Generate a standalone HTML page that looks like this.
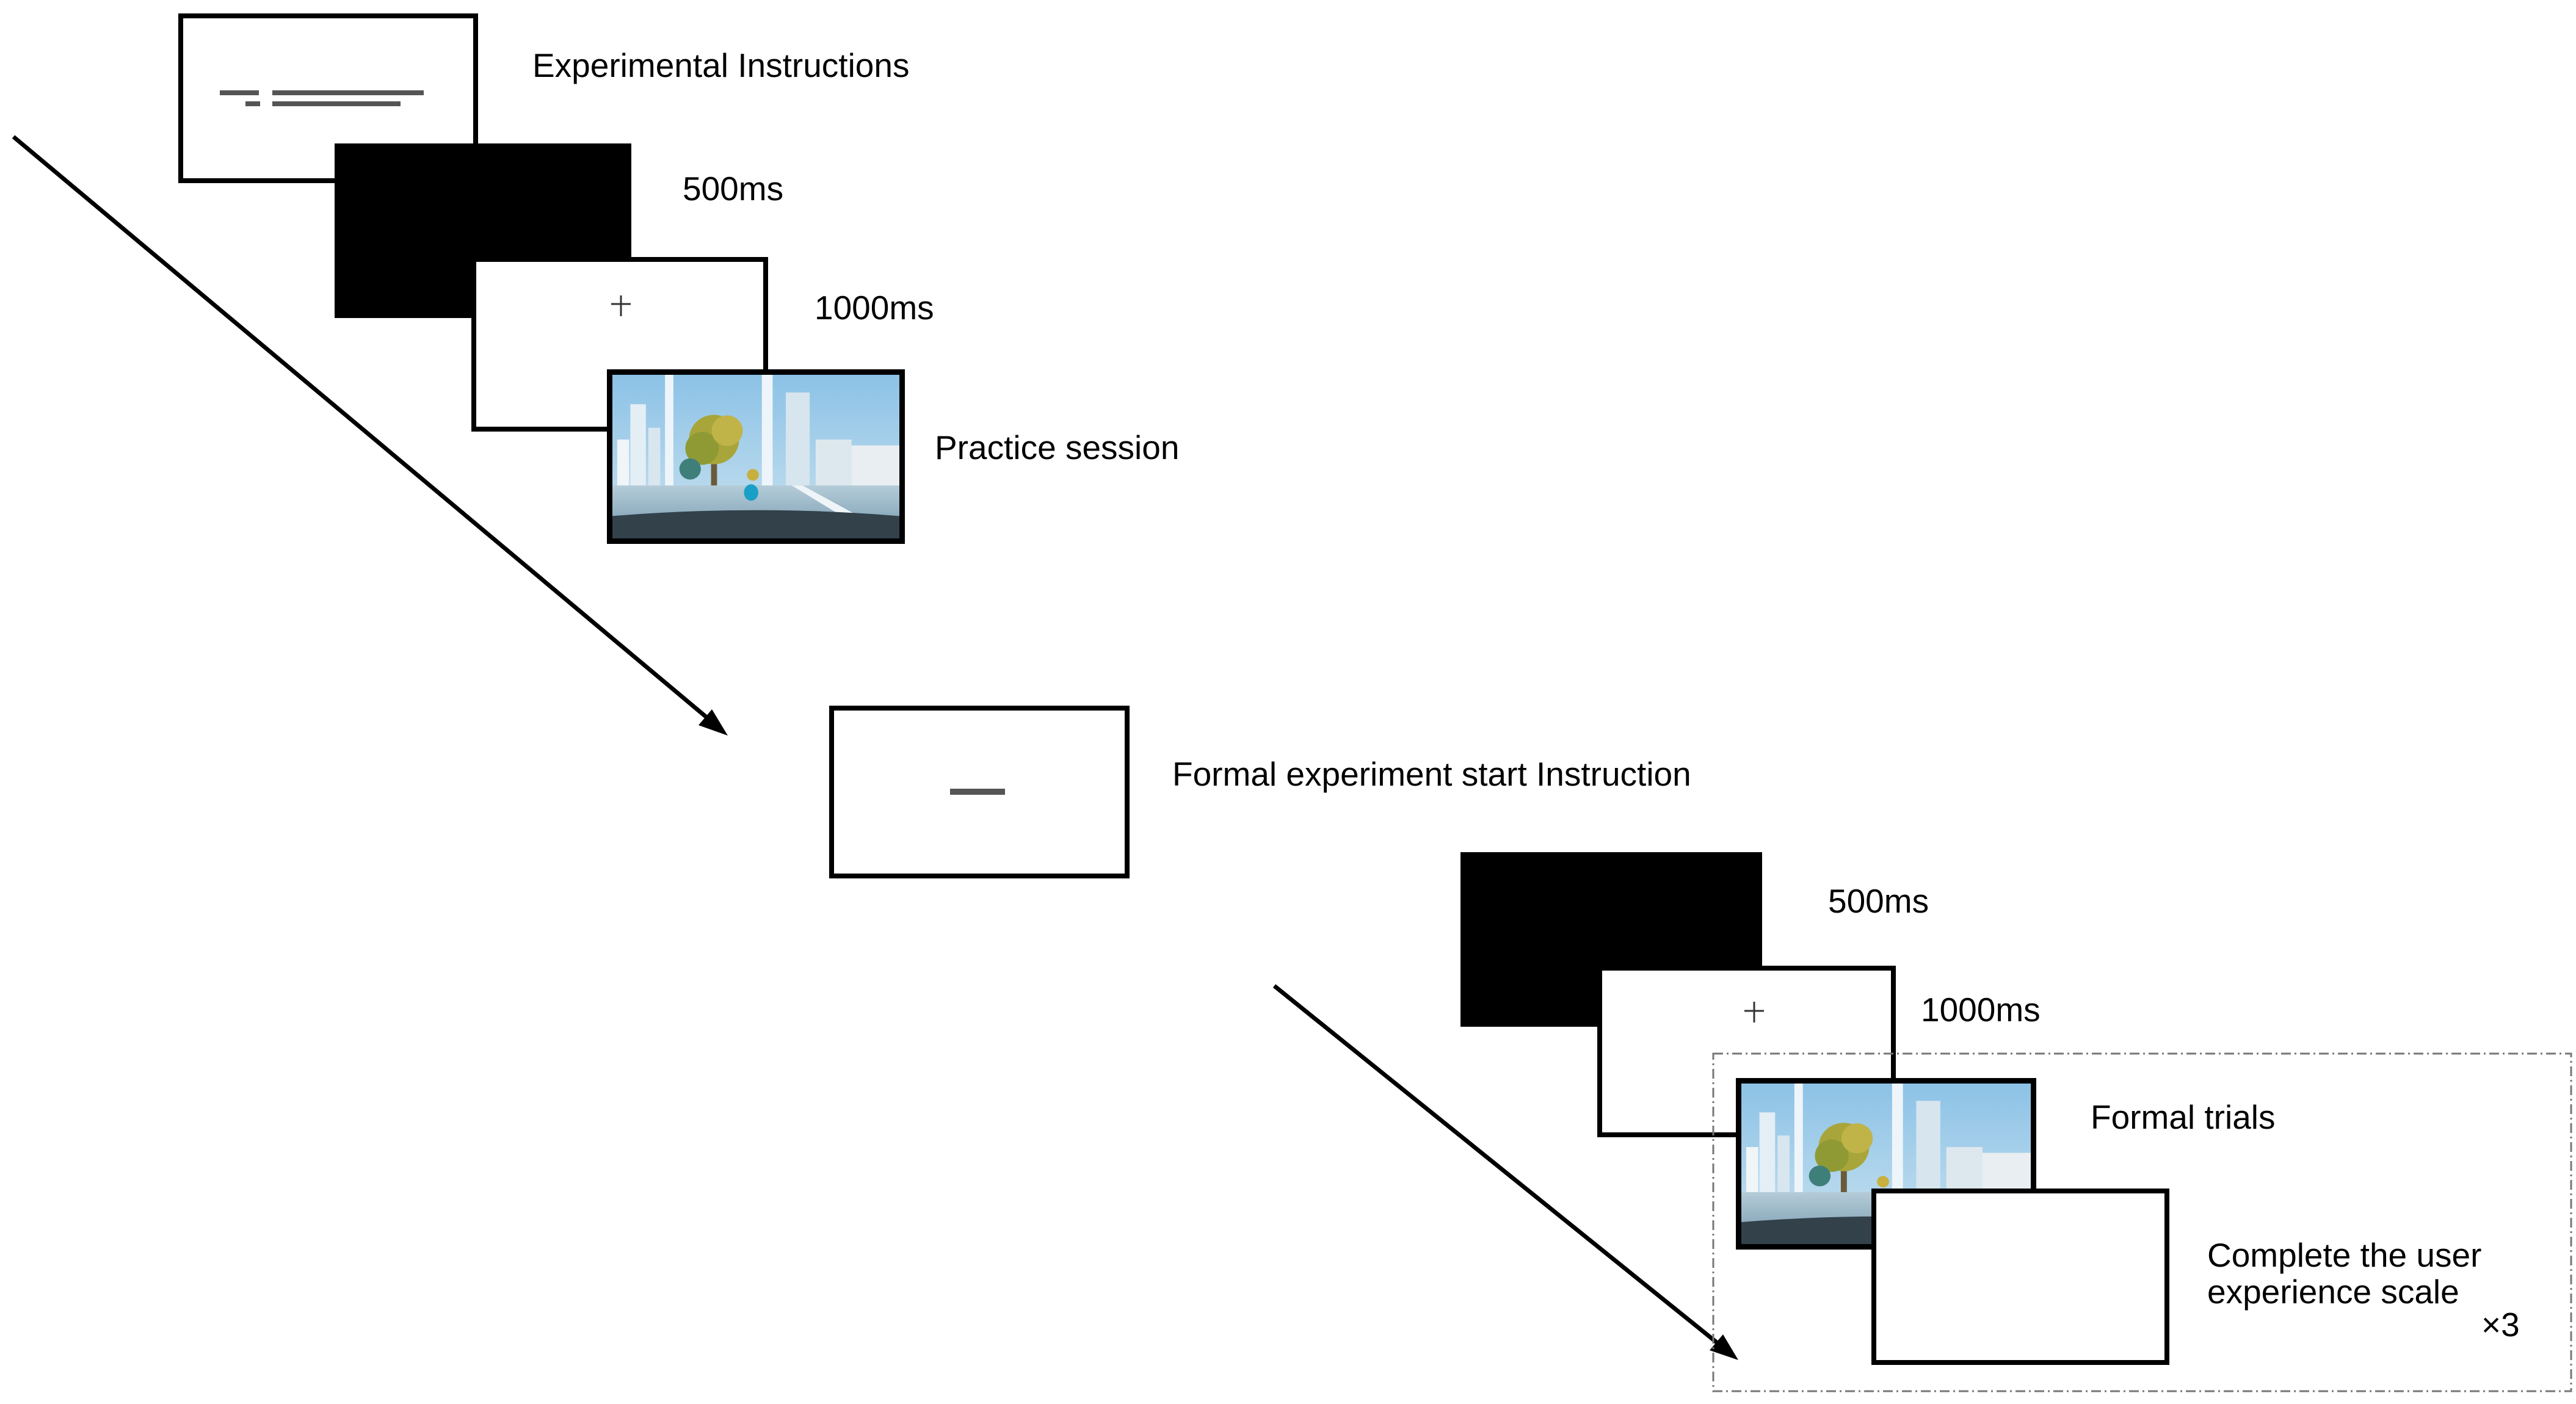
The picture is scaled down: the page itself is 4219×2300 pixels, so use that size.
<!DOCTYPE html>
<html><head><meta charset="utf-8"><style>
html,body{margin:0;padding:0;background:#fff;}
body{width:4219px;height:2300px;position:relative;overflow:hidden;}
svg{position:absolute;left:0;top:0;}
text{font-family:"Liberation Sans",Arial,sans-serif;font-size:55px;fill:#000;}
</style></head><body>
<svg width="4219" height="2300" viewBox="0 0 4219 2300">
<defs>
<linearGradient id="sky" x1="0" y1="0" x2="0" y2="1">
<stop offset="0" stop-color="#8cc2e6"/><stop offset="1" stop-color="#c9e2f0"/></linearGradient>
<linearGradient id="road" x1="0" y1="0" x2="0" y2="1">
<stop offset="0" stop-color="#b5ccd8"/><stop offset="1" stop-color="#86a7ba"/></linearGradient>
<symbol id="scene" viewBox="0 0 480 278" preserveAspectRatio="none">
<rect x="0" y="0" width="480" height="278" fill="url(#sky)"/>
<rect x="30" y="50" width="26" height="140" fill="#e4eef5"/>
<rect x="60" y="90" width="20" height="100" fill="#d8e6ef"/>
<rect x="88" y="0" width="14" height="190" fill="#eef5fa"/>
<rect x="250" y="0" width="18" height="190" fill="#eef5fa"/>
<rect x="290" y="30" width="40" height="160" fill="#d6e5ee"/>
<rect x="340" y="110" width="60" height="80" fill="#dde8ee"/>
<rect x="400" y="120" width="80" height="70" fill="#e8eef2"/>
<rect x="8" y="110" width="20" height="80" fill="#f0f5f8"/>
<rect x="165" y="140" width="10" height="50" fill="#6b5a3a"/>
<circle cx="170" cy="110" r="42" fill="#a8a53a"/>
<circle cx="150" cy="125" r="28" fill="#8f9a35"/>
<circle cx="192" cy="95" r="26" fill="#c0b448"/>
<circle cx="130" cy="160" r="18" fill="#3f7f7a"/>
<circle cx="235" cy="170" r="10" fill="#c8b040"/>
<polygon points="0,188 480,188 480,250 0,250" fill="url(#road)"/>
<polygon points="300,188 318,188 430,250 400,250" fill="#eef4f7"/>
<ellipse cx="232" cy="200" rx="12" ry="14" fill="#1aa0c8"/>
<rect x="0" y="245" width="480" height="33" fill="#3d4d58"/>
<path d="M0 240 Q240 220 480 240 L480 278 L0 278Z" fill="#33414b"/>
</symbol>
</defs>

<line x1="22" y1="224" x2="1168" y2="1184" stroke="#000" stroke-width="7"/>
<polygon points="1192,1205 1144,1188 1166,1162" fill="#000"/>
<line x1="2087" y1="1615" x2="2824" y2="2209" stroke="#000" stroke-width="7"/>
<polygon points="2847,2228 2800,2212 2822,2186" fill="#000"/>

<rect x="296" y="26" width="483" height="270" fill="#fff" stroke="#000" stroke-width="8"/>
<g fill="#555">
<rect x="360" y="148" width="64" height="8"/><rect x="446" y="148" width="248" height="8"/>
<rect x="402" y="166" width="24" height="8"/><rect x="446" y="166" width="210" height="8"/>
</g>
<rect x="548" y="235" width="486" height="286" fill="#000"/>
<rect x="776" y="425" width="478" height="278" fill="#fff" stroke="#000" stroke-width="8"/>
<path d="M1017 484 v34 M1001 498 h32" stroke="#333" stroke-width="3"/>
<rect x="994" y="605" width="488" height="286" fill="#000"/>
<svg x="1003" y="614" width="470" height="268"><use href="#scene" width="470" height="268"/></svg>

<text x="872" y="126">Experimental Instructions</text>
<text x="1118" y="328">500ms</text>
<text x="1334" y="523">1000ms</text>
<text x="1531" y="752">Practice session</text>

<rect x="1362" y="1160" width="484" height="275" fill="#fff" stroke="#000" stroke-width="8"/>
<rect x="1556" y="1292" width="90" height="10" fill="#555"/>
<text x="1920" y="1287">Formal experiment start Instruction</text>

<rect x="2392" y="1396" width="494" height="286" fill="#000"/>
<rect x="2620" y="1586" width="481" height="273" fill="#fff" stroke="#000" stroke-width="8"/>
<path d="M2873 1641 v34 M2857 1656 h32" stroke="#333" stroke-width="3"/>
<rect x="2806" y="1726" width="1405" height="553" fill="none" stroke="#777" stroke-width="3" stroke-dasharray="16 6 3 6"/>
<rect x="2843" y="1766" width="492" height="281" fill="#000"/>
<svg x="2852" y="1775" width="474" height="263"><use href="#scene" width="474" height="263"/></svg>
<rect x="3069" y="1951" width="480" height="281" fill="#fff" stroke="#000" stroke-width="8"/>

<text x="2994" y="1495">500ms</text>
<text x="3146" y="1673">1000ms</text>
<text x="3424" y="1849">Formal trials</text>
<text x="3615" y="2075">Complete the user</text>
<text x="3615" y="2135">experience scale</text>
<text x="4064" y="2189">×3</text>
</svg>
</body></html>
